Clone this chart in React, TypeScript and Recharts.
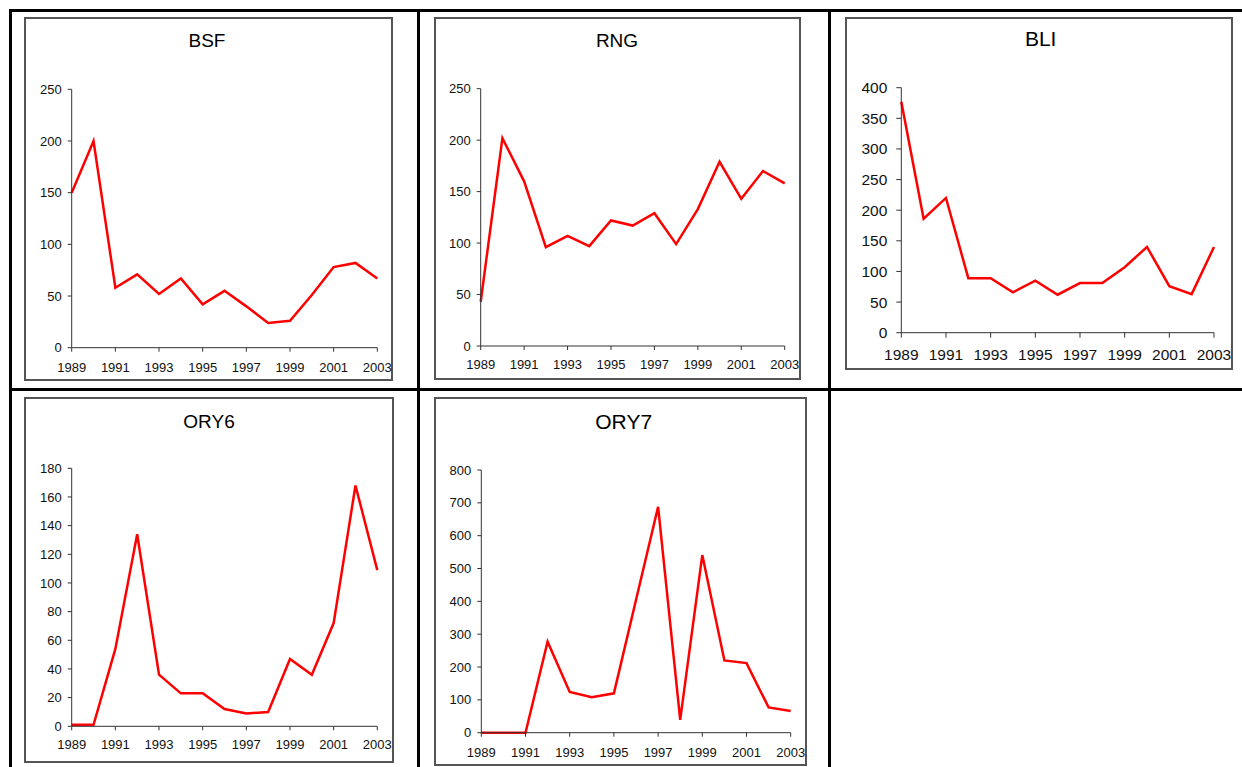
import { LineChart, Line, XAxis, YAxis } from "recharts";

// yearly counts per station, 1989-2003
const years = [1989, 1990, 1991, 1992, 1993, 1994, 1995, 1996, 1997, 1998, 1999, 2000, 2001, 2002, 2003];

const bsf = [150, 200, 58, 71, 52, 67, 42, 55, 40, 24, 26, 51, 78, 82, 67];
const rng = [43, 202, 160, 96, 107, 97, 122, 117, 129, 99, 133, 179, 143, 170, 158];
const bli = [377, 186, 220, 89, 89, 66, 85, 62, 81, 81, 107, 140, 76, 63, 140];
const ory6 = [1, 1, 54, 134, 36, 23, 23, 12, 9, 10, 47, 36, 72, 168, 109];
const ory7 = [0, 0, 0, 277, 124, 108, 120, 404, 688, 39, 541, 220, 212, 77, 66];

const ticks250 = [0, 50, 100, 150, 200, 250];
const ticks400 = [0, 50, 100, 150, 200, 250, 300, 350, 400];
const ticks180 = [0, 20, 40, 60, 80, 100, 120, 140, 160, 180];
const ticks800 = [0, 100, 200, 300, 400, 500, 600, 700, 800];

const FONT = "'Liberation Sans', Arial, sans-serif";
const AXIS = "#333";

type Box = { left: number; top: number; right: number; bottom: number };

type PanelProps = {
  title: string;
  values: number[];
  ticks: number[];
  box: Box;
  plot: Box; // page coordinates of the plotting area
  titleX: number;
  titleY: number;
  titleSize: number;
  fontSize: number;
  tickSize: number;
  yGap: number;
  xGap: number;
};

const Y_W = 30;
const X_H = 20;

function Panel(p: PanelProps) {
  const data = years.map((y, i) => ({ year: String(y), value: p.values[i] }));
  const width = p.box.right - p.box.left;
  const height = p.box.bottom - p.box.top;
  const margin = {
    top: p.plot.top - p.box.top,
    bottom: p.box.bottom - p.plot.bottom - X_H,
    left: p.plot.left - p.box.left - Y_W,
    right: p.box.right - p.plot.right,
  };
  const tick = { fontSize: p.fontSize, fill: "#111", fontFamily: FONT };
  return (
    <>
      <div
        style={{
          position: "absolute",
          left: p.box.left,
          top: p.box.top,
          width,
          height,
          boxSizing: "border-box",
          border: "2px solid #555",
        }}
      />
      <div
        style={{
          position: "absolute",
          left: p.titleX - 100,
          width: 200,
          top: p.titleY - p.titleSize / 2,
          lineHeight: `${p.titleSize}px`,
          fontSize: p.titleSize,
          fontFamily: FONT,
          textAlign: "center",
          color: "#000",
        }}
      >
        {p.title}
      </div>
      <div style={{ position: "absolute", left: p.box.left, top: p.box.top }}>
        <LineChart width={width} height={height} data={data} margin={margin}>
          <XAxis
            dataKey="year"
            interval={1}
            height={X_H}
            stroke={AXIS}
            tick={tick}
            tickSize={p.tickSize}
            tickMargin={p.xGap}
            padding={{ left: 0, right: 0 }}
          />
          <YAxis
            type="number"
            domain={[0, p.ticks[p.ticks.length - 1]]}
            ticks={p.ticks}
            interval={0}
            width={Y_W}
            stroke={AXIS}
            tick={tick}
            tickSize={p.tickSize}
            tickMargin={p.yGap}
          />
          <Line
            type="linear"
            dataKey="value"
            stroke="#ff0000"
            strokeWidth={2.5}
            dot={false}
            isAnimationActive={false}
          />
        </LineChart>
      </div>
    </>
  );
}

function Rule({ x, y, w, h }: { x: number; y: number; w: number; h: number }) {
  return <div style={{ position: "absolute", left: x, top: y, width: w, height: h, background: "#000" }} />;
}

export default function App() {
  return (
    <div
      style={{
        position: "absolute",
        left: 0,
        top: 0,
        width: 1242,
        height: 767,
        background: "#fff",
        overflow: "hidden",
      }}
    >
      {/* table grid */}
      <Rule x={9} y={9} w={1233} h={3} />
      <Rule x={9} y={9} w={3} h={758} />
      <Rule x={417} y={9} w={3} h={758} />
      <Rule x={828} y={9} w={3} h={758} />
      <Rule x={9} y={388} w={1233} h={3} />

      <Panel
        title="BSF"
        values={bsf}
        ticks={ticks250}
        box={{ left: 24, top: 17, right: 393, bottom: 381 }}
        plot={{ left: 71.7, top: 89.3, right: 377.3, bottom: 347.7 }}
        titleX={207}
        titleY={40.3}
        titleSize={19}
        fontSize={13}
        tickSize={4}
        yGap={6}
        xGap={11.5}
      />
      <Panel
        title="RNG"
        values={rng}
        ticks={ticks250}
        box={{ left: 434, top: 17, right: 801, bottom: 379.5 }}
        plot={{ left: 480.7, top: 88.7, right: 784.7, bottom: 346 }}
        titleX={617}
        titleY={40}
        titleSize={19}
        fontSize={13}
        tickSize={4}
        yGap={6}
        xGap={10}
      />
      <Panel
        title="BLI"
        values={bli}
        ticks={ticks400}
        box={{ left: 845, top: 17, right: 1233, bottom: 369.5 }}
        plot={{ left: 901.3, top: 87.7, right: 1214, bottom: 332.7 }}
        titleX={1040.7}
        titleY={38.8}
        titleSize={21}
        fontSize={15.5}
        tickSize={5}
        yGap={9}
        xGap={11.5}
      />
      <Panel
        title="ORY6"
        values={ory6}
        ticks={ticks180}
        box={{ left: 24, top: 397, right: 394, bottom: 763 }}
        plot={{ left: 71.7, top: 468.3, right: 377.3, bottom: 726.3 }}
        titleX={209}
        titleY={421}
        titleSize={19}
        fontSize={13}
        tickSize={4}
        yGap={6}
        xGap={9.7}
      />
      <Panel
        title="ORY7"
        values={ory7}
        ticks={ticks800}
        box={{ left: 434, top: 397, right: 807, bottom: 766 }}
        plot={{ left: 481.3, top: 470, right: 790.7, bottom: 732.7 }}
        titleX={623.7}
        titleY={421.7}
        titleSize={21}
        fontSize={13}
        tickSize={4}
        yGap={6}
        xGap={11}
      />
    </div>
  );
}
